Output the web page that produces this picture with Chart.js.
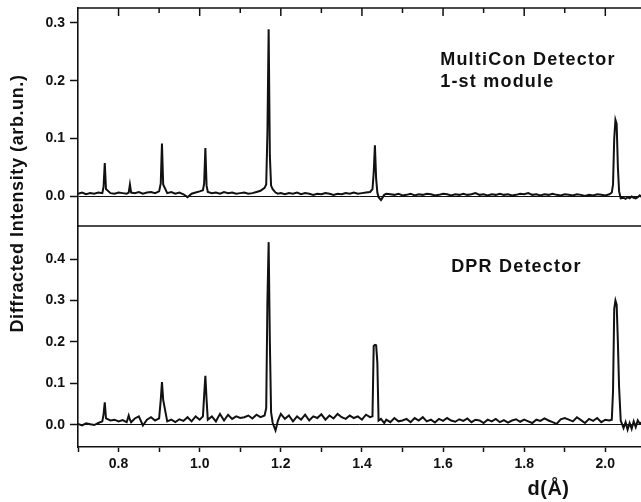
<!DOCTYPE html>
<html>
<head>
<meta charset="utf-8">
<script src="https://cdn.jsdelivr.net/npm/chart.js@4.4.1/dist/chart.umd.min.js"></script>
<style>
	html, body { margin: 0; padding: 0; background: #fff; }
	#chart { display: block; }
</style>
</head>
<body>
<canvas id="chart" width="641" height="502"></canvas>
<script>
// d-spacing grid shared by both detectors (Angstrom)
const dSpacing = [
	0.700, 0.710, 0.720, 0.730, 0.740, 0.750, 0.760, 0.763, 0.766, 0.769,
	0.780, 0.790, 0.800, 0.810, 0.820, 0.825, 0.828, 0.831, 0.840, 0.850,
	0.860, 0.870, 0.880, 0.890, 0.900, 0.904, 0.907, 0.910, 0.920, 0.930,
	0.940, 0.950, 0.960, 0.970, 0.980, 0.990, 1.000, 1.008, 1.011, 1.014,
	1.017, 1.020, 1.030, 1.040, 1.050, 1.060, 1.070, 1.080, 1.090, 1.100,
	1.110, 1.120, 1.130, 1.140, 1.150, 1.160, 1.164, 1.167, 1.170, 1.173,
	1.176, 1.180, 1.187, 1.193, 1.200, 1.210, 1.220, 1.230, 1.240, 1.250,
	1.260, 1.270, 1.280, 1.290, 1.300, 1.310, 1.320, 1.330, 1.340, 1.350,
	1.360, 1.370, 1.380, 1.390, 1.400, 1.410, 1.420, 1.426, 1.429, 1.432,
	1.435, 1.438, 1.441, 1.447, 1.455, 1.460, 1.470, 1.480, 1.490, 1.500,
	1.510, 1.520, 1.530, 1.540, 1.550, 1.560, 1.570, 1.580, 1.590, 1.600,
	1.610, 1.620, 1.630, 1.640, 1.650, 1.660, 1.670, 1.680, 1.690, 1.700,
	1.710, 1.720, 1.730, 1.740, 1.750, 1.760, 1.770, 1.780, 1.790, 1.800,
	1.810, 1.820, 1.830, 1.840, 1.850, 1.860, 1.870, 1.880, 1.890, 1.900,
	1.910, 1.920, 1.930, 1.940, 1.950, 1.960, 1.970, 1.980, 1.990, 2.000,
	2.010, 2.016, 2.019, 2.022, 2.025, 2.028, 2.031, 2.034, 2.038, 2.045,
	2.050, 2.055, 2.060, 2.065, 2.070, 2.075, 2.080, 2.085, 2.090
];

// MultiCon Detector, 1-st module (upper panel)
const multiconIntensity = [
	0.004, 0.006, 0.003, 0.005, 0.004, 0.006, 0.005, 0.016, 0.057, 0.012,
	0.005, 0.004, 0.006, 0.005, 0.004, 0.006, 0.020, 0.006, 0.005, 0.007,
	0.004, 0.006, 0.007, 0.005, 0.008, 0.022, 0.091, 0.020, 0.005, 0.007,
	0.004, 0.006, 0.003, -0.002, 0.004, 0.006, 0.008, 0.010, 0.022, 0.083,
	0.018, 0.007, 0.005, 0.006, 0.004, 0.007, 0.005, 0.006, 0.004, 0.005,
	0.006, 0.004, 0.005, 0.007, 0.009, 0.014, 0.020, 0.110, 0.289, 0.070,
	0.018, 0.012, 0.006, 0.004, 0.005, 0.003, 0.005, 0.004, 0.006, 0.003,
	0.005, 0.004, 0.002, 0.004, 0.003, 0.005, 0.004, 0.002, 0.004, 0.003,
	0.005, 0.004, 0.006, 0.004, 0.005, 0.006, 0.007, 0.012, 0.040, 0.088,
	0.030, 0.006, -0.002, -0.007, 0.002, 0.004, 0.003, 0.002, 0.004, 0.001,
	0.002, 0.004, 0.001, 0.003, 0.002, 0.004, 0.003, 0.001, 0.002, 0.004,
	0.003, 0.001, 0.003, 0.002, 0.004, 0.002, 0.003, 0.005, 0.002, 0.003,
	0.001, 0.003, 0.002, 0.004, 0.002, 0.003, 0.001, 0.002, 0.004, 0.003,
	0.005, 0.002, 0.003, 0.001, 0.003, 0.002, 0.004, 0.002, 0.001, 0.003,
	0.002, 0.001, 0.003, 0.002, 0.000, 0.002, 0.001, 0.003, 0.002, 0.001,
	0.003, 0.006, 0.020, 0.100, 0.132, 0.125, 0.050, 0.008, -0.004, -0.003,
	-0.005, -0.002, -0.004, -0.001, -0.003, -0.004, -0.002, 0.001, -0.002
];

// DPR Detector (lower panel)
const dprIntensity = [
	0.002, -0.002, 0.003, 0.001, -0.001, 0.004, 0.008, 0.025, 0.054, 0.015,
	0.010, 0.012, 0.008, 0.011, 0.006, 0.022, 0.012, 0.006, 0.015, 0.020,
	-0.002, 0.012, 0.018, 0.010, 0.015, 0.060, 0.103, 0.060, 0.008, 0.012,
	0.006, 0.013, 0.009, 0.018, 0.008, 0.020, 0.012, 0.020, 0.070, 0.118,
	0.060, 0.012, 0.020, 0.008, 0.026, 0.010, 0.024, 0.014, 0.020, 0.016,
	0.018, 0.022, 0.015, 0.024, 0.018, 0.022, 0.040, 0.300, 0.441, 0.200,
	0.030, 0.004, -0.014, 0.010, 0.026, 0.014, 0.022, 0.008, 0.020, 0.012,
	0.024, 0.010, 0.020, 0.016, 0.025, 0.012, 0.022, 0.015, 0.026, 0.018,
	0.014, 0.022, 0.016, 0.020, 0.012, 0.024, 0.018, 0.020, 0.190, 0.193,
	0.192, 0.150, 0.010, 0.014, 0.004, 0.012, 0.006, 0.016, 0.008, 0.010,
	0.014, 0.006, 0.016, 0.010, 0.018, 0.008, 0.012, 0.005, 0.014, 0.009,
	0.016, 0.010, 0.007, 0.013, 0.009, 0.015, 0.006, 0.012, 0.010, 0.004,
	0.012, 0.008, 0.014, 0.006, 0.011, 0.005, 0.010, 0.013, 0.007, 0.012,
	0.008, 0.004, 0.012, 0.009, 0.015, 0.010, 0.006, 0.002, 0.013, 0.016,
	0.012, 0.008, 0.018, 0.011, 0.004, 0.014, 0.009, 0.016, 0.006, 0.012,
	0.010, 0.012, 0.080, 0.280, 0.300, 0.290, 0.200, 0.090, 0.010, -0.008,
	0.006, -0.012, 0.004, -0.010, 0.008, -0.006, 0.010, 0.002, 0.006
];

// axis ranges and ticks
const dRange = [0.70, 2.088];
const multiconRange = [-0.052, 0.326];
const dprRange = [-0.054, 0.48];
const topTickValues = [0.8, 0.9, 1.0, 1.1, 1.2, 1.3, 1.4, 1.5, 1.6, 1.7, 1.8, 1.9, 2.0];

const FONT = "Arial, 'Liberation Sans', sans-serif";
const INK = '#111';

/// turns the parallel arrays into {x, y} points for a linear x axis
function toPoints(xs, ys) { return xs.map((x, i) => ({ x: x, y: ys[i] })); }

/// frame pieces, inward top ticks and the panel texts that Chart.js has no option for
const panelFramePlugin = {
	id: 'panelFrame',
	afterDraw(chart) {
		const ctx = chart.ctx;
		const area = chart.chartArea;
		const x = chart.scales.x;
		const yTop = chart.scales.yTop;
		const yBot = chart.scales.yBot;

		ctx.save();
		ctx.strokeStyle = INK;
		ctx.lineWidth = 1.6;
		ctx.beginPath();
		ctx.moveTo(area.left, area.top);
		ctx.lineTo(area.right, area.top);
		// divider between the two detectors
		ctx.moveTo(area.left, yTop.bottom);
		ctx.lineTo(area.right, yTop.bottom);
		ctx.stroke();

		// ticks hanging down from the top border
		ctx.lineWidth = 1.5;
		ctx.beginPath();
		topTickValues.forEach(v => {
			let px = x.getPixelForValue(v);
			let len = Math.round(v * 10) % 2 === 0 ? 8 : 5;
			ctx.moveTo(px, area.top);
			ctx.lineTo(px, area.top + len);
		});
		ctx.stroke();

		ctx.fillStyle = INK;
		ctx.textBaseline = 'alphabetic';
		ctx.textAlign = 'left';
		ctx.font = 'bold 18px ' + FONT;
		ctx.letterSpacing = '1.2px';
		ctx.fillText('MultiCon Detector', x.getPixelForValue(1.593), yTop.getPixelForValue(0.227));
		ctx.fillText('1-st module', x.getPixelForValue(1.593), yTop.getPixelForValue(0.189));
		ctx.fillText('DPR Detector', x.getPixelForValue(1.620), yBot.getPixelForValue(0.369));

		ctx.letterSpacing = '0.5px';
		ctx.textAlign = 'center';
		ctx.textBaseline = 'middle';
		ctx.font = 'bold 20px ' + FONT;
		ctx.fillText('d(Å)', x.getPixelForValue(1.86), area.bottom + 42);

		ctx.letterSpacing = '0.6px';
		ctx.font = 'bold 18px ' + FONT;
		ctx.translate(18, (area.top + area.bottom) / 2 - 24);
		ctx.rotate(-Math.PI / 2);
		ctx.fillText('Diffracted Intensity (arb.un.)', 0, 0);
		ctx.restore();
	}
};

/// options shared by both stacked y axes
function panelAxis(range, weight) {
	return {
		type: 'linear',
		position: 'left',
		stack: 'panels',
		stackWeight: weight,
		min: range[0],
		max: range[1],
		// fixed gutter, and no extra room for half a label above the frame
		afterFit: scale => {
			scale.width = 78;
			scale.paddingTop = 0;
			scale.paddingBottom = 0;
		},
		border: { display: true, color: INK, width: 1.6 },
		grid: {
			drawOnChartArea: true,
			drawTicks: true,
			tickLength: 8,
			tickColor: INK,
			tickWidth: 1.5,
			lineWidth: 1,
			color: c => (Math.abs(c.tick.value) < 1e-9 ? INK : 'rgba(0,0,0,0)')
		},
		ticks: {
			stepSize: 0.1,
			includeBounds: false,
			padding: 5,
			color: INK,
			font: { family: FONT, size: 14, weight: 'bold' },
			callback: v => v.toFixed(1)
		}
	};
}

window.onload = () => {
	const ctx = document.getElementById('chart');

	new Chart(ctx, {
		type: 'line',
		data: {
			datasets: [
				{
					label: 'MultiCon Detector 1-st module',
					data: toPoints(dSpacing, multiconIntensity),
					yAxisID: 'yTop',
					borderColor: INK,
					borderWidth: 2,
					pointRadius: 0,
					tension: 0
				},
				{
					label: 'DPR Detector',
					data: toPoints(dSpacing, dprIntensity),
					yAxisID: 'yBot',
					borderColor: INK,
					borderWidth: 2,
					pointRadius: 0,
					tension: 0
				}
			]
		},
		options: {
			responsive: false,
			animation: false,
			layout: { padding: { top: 8, right: 0, left: 0, bottom: 0 } },
			plugins: {
				legend: { display: false },
				tooltip: { enabled: false }
			},
			scales: {
				x: {
					type: 'linear',
					position: 'bottom',
					min: dRange[0],
					max: dRange[1],
					afterFit: scale => { scale.height = 55; },
					border: { display: true, color: INK, width: 1.6 },
					grid: { drawOnChartArea: false, drawTicks: true, tickLength: 5, tickColor: INK, tickWidth: 1.5 },
					ticks: {
						stepSize: 0.1,
						includeBounds: false,
						autoSkip: false,
						maxRotation: 0,
						padding: 4,
						color: INK,
						font: { family: FONT, size: 14, weight: 'bold' },
						callback: v => (Math.round(v * 10) % 2 === 0 ? v.toFixed(1) : '')
					}
				},
				yBot: panelAxis(dprRange, 221),
				yTop: panelAxis(multiconRange, 218)
			}
		},
		plugins: [panelFramePlugin]
	});
};
</script>
</body>
</html>
